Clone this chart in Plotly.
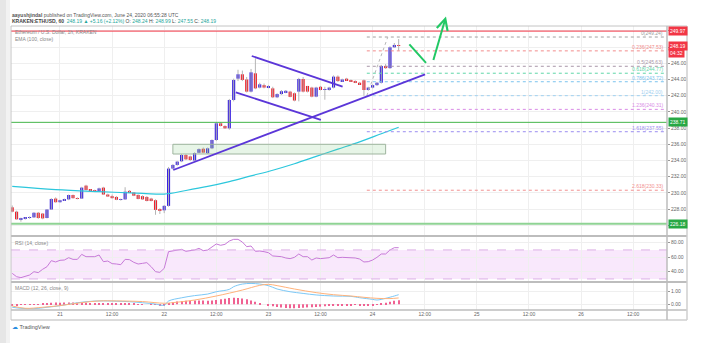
import plotly.graph_objects as go
import pandas as pd

# ---------------- data ----------------
OPEN = [228.22, 227.68, 226.74, 226.85, 226.94, 226.98, 227.55, 227.45, 226.90, 227.95,
        229.30, 228.85, 229.10, 229.20, 229.74, 229.35, 229.30, 230.90, 230.36, 230.30,
        230.20, 230.65, 229.80, 229.60, 229.50, 229.15, 229.20, 230.25, 230.05, 229.75,
        229.60, 229.50, 229.30, 229.10, 228.00, 227.85, 228.40, 233.00, 233.45, 233.90,
        234.68, 234.50, 234.00, 234.95, 235.45, 234.90, 235.50, 236.53, 238.59, 238.26,
        237.97, 241.47, 244.10, 244.64, 244.00, 242.50, 244.76, 243.00, 243.30, 243.00,
        242.90, 241.80, 242.20, 242.40, 242.50, 242.30, 242.50, 244.06, 243.20, 243.00,
        241.88, 243.10, 242.70, 242.70, 243.00, 244.35, 243.80, 244.10, 243.90, 243.80,
        243.60, 243.90, 242.70, 243.00, 243.30, 243.60, 245.67, 245.40, 247.97, 248.24]
HIGH = [228.45, 227.80, 226.95, 227.00, 227.10, 227.60, 227.65, 227.50, 228.00, 229.35,
        229.45, 229.15, 229.30, 229.80, 229.80, 229.45, 230.75, 231.00, 230.45, 230.40,
        230.65, 230.75, 229.90, 229.80, 229.60, 229.30, 230.70, 230.35, 230.10, 229.80,
        229.70, 229.60, 229.40, 229.20, 228.10, 228.50, 233.20, 233.55, 233.95, 234.80,
        234.80, 234.60, 235.00, 235.50, 235.60, 235.60, 236.60, 238.70, 238.75, 238.35,
        241.60, 244.10, 245.20, 245.10, 244.30, 245.30, 246.60, 243.60, 243.50, 243.30,
        243.10, 242.30, 242.70, 242.70, 242.60, 242.40, 244.20, 244.30, 243.20, 243.10,
        243.10, 243.20, 243.10, 243.10, 244.50, 244.50, 244.10, 244.20, 244.00, 243.90,
        243.70, 244.00, 243.10, 243.40, 243.70, 245.80, 245.90, 248.10, 248.50, 248.99]
LOW = [227.60, 226.70, 226.45, 226.70, 226.80, 226.90, 226.80, 226.75, 226.85, 227.90,
       228.80, 228.80, 229.00, 229.10, 229.30, 229.20, 229.25, 230.30, 230.20, 230.10,
       230.10, 229.75, 229.50, 229.30, 229.10, 229.05, 229.15, 230.00, 229.60, 229.20,
       229.15, 228.95, 228.95, 227.30, 227.40, 227.50, 228.30, 232.90, 233.35, 233.80,
       234.05, 233.95, 233.90, 234.90, 234.90, 234.80, 235.40, 236.40, 238.20, 237.90,
       237.80, 241.30, 243.80, 243.80, 242.40, 242.40, 242.80, 242.90, 242.90, 242.90,
       241.70, 241.70, 242.10, 242.30, 241.80, 241.30, 241.30, 242.40, 242.40, 241.80,
       241.80, 242.65, 241.50, 242.60, 242.90, 243.70, 243.70, 243.85, 243.70, 243.55,
       243.35, 242.00, 242.60, 242.90, 243.20, 243.50, 245.30, 245.30, 247.90, 247.55]
CLOSE = [227.68, 226.74, 226.85, 226.94, 226.98, 227.55, 226.90, 226.85, 227.95, 229.25,
         228.85, 229.10, 229.20, 229.74, 229.35, 229.30, 230.65, 230.36, 230.30, 230.20,
         230.56, 229.80, 229.55, 229.35, 229.15, 229.20, 230.15, 230.05, 229.65, 229.25,
         229.20, 229.00, 229.00, 227.90, 227.80, 228.40, 233.00, 233.45, 233.86, 234.68,
         234.14, 234.06, 234.90, 235.40, 234.97, 235.50, 236.53, 238.59, 238.26, 237.97,
         241.47, 243.94, 244.64, 243.94, 242.50, 244.88, 242.90, 243.40, 243.00, 243.10,
         241.80, 242.20, 242.55, 242.60, 241.85, 241.40, 244.06, 242.50, 242.50, 241.88,
         243.00, 242.70, 242.80, 243.00, 244.35, 243.80, 244.00, 243.90, 243.80, 243.60,
         243.40, 242.70, 243.00, 243.30, 243.60, 245.67, 245.40, 247.97, 248.26, 248.19]

EMA_IDX = [0, 10, 20, 30, 35, 40, 45, 50, 55, 60, 65, 70, 75, 80, 85, 89]
EMA_VAL = [230.80, 230.40, 230.15, 229.95, 229.85, 230.30, 230.80, 231.40, 232.10,
           232.80, 233.60, 234.50, 235.40, 236.30, 237.30, 238.10]

RSI = [37.7, 33.1, 31.8, 33.2, 35.4, 40.0, 38.7, 43.3, 46.9, 55.2,
       53.4, 55.7, 56.1, 59.3, 57.0, 57.0, 63.9, 60.7, 60.7, 60.7,
       63.0, 53.8, 54.7, 51.1, 50.6, 49.7, 57.0, 56.6, 52.9, 50.6,
       51.5, 52.5, 46.9, 40.0, 39.1, 44.6, 67.6, 69.0, 69.9, 70.8,
       68.1, 68.5, 69.9, 72.2, 69.0, 69.9, 74.5, 78.2, 76.4, 77.7,
       82.3, 84.6, 84.6, 80.9, 74.5, 75.4, 68.1, 68.5, 67.6, 66.2,
       61.7, 61.7, 60.7, 58.9, 58.0, 59.8, 64.4, 60.7, 60.7, 56.1,
       58.9, 58.0, 58.4, 59.3, 63.0, 59.3, 59.8, 59.8, 59.8, 58.9,
       57.5, 53.4, 53.8, 56.1, 59.8, 64.4, 64.4, 69.9, 73.1, 73.1]

MACD_IDX = [0, 2, 5, 8, 11, 15, 19, 23, 27, 30, 33, 35, 36, 39, 42, 45, 47, 50, 51, 53,
            55, 57, 59, 61, 64, 67, 70, 74, 78, 80, 83, 84, 86, 88, 89]
MACD_VAL = [-0.23, -0.31, -0.34, -0.23, -0.11, 0.12, 0.25, 0.25, 0.20, 0.12, 0.02, -0.08,
            0.25, 0.50, 0.67, 0.79, 0.97, 1.15, 1.36, 1.56, 1.61, 1.56, 1.44, 1.18, 0.97,
            0.84, 0.72, 0.64, 0.61, 0.51, 0.38, 0.33, 0.46, 0.64, 0.74]
SIGNAL_IDX = [0, 3, 7, 11, 16, 20, 24, 30, 35, 37, 42, 47, 53, 57, 59, 61, 65, 70, 74, 78,
              81, 84, 87, 89]
SIGNAL_VAL = [-0.13, -0.31, -0.23, -0.10, 0.13, 0.26, 0.26, 0.21, 0.08, 0.13, 0.33, 0.64,
              1.10, 1.46, 1.54, 1.44, 1.18, 0.90, 0.74, 0.64, 0.54, 0.46, 0.44, 0.49]
HIST = [-0.08, -0.06, -0.05, -0.04, -0.03, -0.02, 0.02, 0.05, 0.08, 0.12,
        0.13, 0.12, 0.13, 0.14, 0.13, 0.12, 0.14, 0.12, 0.10, 0.10,
        0.09, 0.08, 0.06, 0.05, 0.05, 0.04, 0.05, 0.04, 0.03, 0.02,
        0.01, 0.00, -0.02, -0.05, -0.07, -0.08, 0.05, 0.15, 0.22, 0.26,
        0.27, 0.28, 0.30, 0.30, 0.30, 0.28, 0.30, 0.33, 0.38, 0.42,
        0.48, 0.50, 0.48, 0.44, 0.38, 0.30, 0.20, 0.10, 0.00, -0.08,
        -0.15, -0.20, -0.25, -0.28, -0.30, -0.30, -0.28, -0.26, -0.24, -0.22,
        -0.20, -0.18, -0.16, -0.14, -0.12, -0.10, -0.10, -0.08, -0.06, -0.05,
        -0.08, -0.10, -0.12, -0.10, -0.05, 0.05, 0.12, 0.20, 0.28, 0.32]

PRICE_TICKS = [226, 228, 230, 232, 234, 236, 238, 240, 242, 244, 246, 248, 250]
PRICE_HIDDEN = [226, 248, 250]
TIME_TICKS = ['2020-06-21 00:00', '2020-06-21 12:00', '2020-06-22 00:00', '2020-06-22 12:00',
              '2020-06-23 00:00', '2020-06-23 12:00', '2020-06-24 00:00', '2020-06-24 12:00',
              '2020-06-25 00:00', '2020-06-25 12:00', '2020-06-26 00:00', '2020-06-26 12:00']
TIME_LABELS = ['21', '12:00', '22', '12:00', '23', '12:00', '24', '12:00', '25', '12:00', '26', '12:00']

FIB_LEVELS = ['0', '0.236', '0.5', '0.618', '0.786', '1', '1.236', '1.618', '2.618']
FIB_PRICES = [249.24, 247.53, 245.63, 244.77, 243.72, 242.00, 240.31, 237.55, 230.33]
FIB_COLORS = ['#a0a0a0', '#f28b8b', '#a896a8', '#5fd6a8', '#7cc3ee', '#9fd0f0',
              '#d98be6', '#9a8cf0', '#f29090']

H_LEVELS = [249.97, 238.71, 226.18]
LAST_PRICE = 248.19

# ---------------- helpers ----------------
W, H = 702, 343
def px(x):
    return x / W
def py(y):
    return 1 - y / H

times = pd.date_range('2020-06-20 13:00', periods=len(CLOSE), freq='h')
UP, DN = '#3b24e0', '#f0222e'

fig = go.Figure()

# wicks
wx, wy = [], []
for t, lo, hi in zip(times, LOW, HIGH):
    wx += [t, t, None]
    wy += [lo, hi, None]
fig.add_trace(go.Scatter(x=wx, y=wy, mode='lines', line=dict(color='#b4b4b4', width=1),
                         hoverinfo='skip', xaxis='x', yaxis='y'))
# bodies
base = [min(o, c) for o, c in zip(OPEN, CLOSE)]
hgt = [max(abs(c - o), 0.06) for o, c in zip(OPEN, CLOSE)]
cols = [UP if c >= o else DN for o, c in zip(OPEN, CLOSE)]
fig.add_trace(go.Bar(x=times, y=hgt, base=base, width=0.72 * 3600000,
                     marker=dict(color=cols, line=dict(width=0)), xaxis='x', yaxis='y'))
# EMA
fig.add_trace(go.Scatter(x=[times[i] for i in EMA_IDX], y=EMA_VAL, mode='lines',
                         line=dict(color='#2cc7dc', width=1.2, shape='spline'),
                         xaxis='x', yaxis='y'))
# RSI
fig.add_trace(go.Scatter(x=times, y=RSI, mode='lines', line=dict(color='#c77ad8', width=1),
                         xaxis='x2', yaxis='y2'))
# MACD
fig.add_trace(go.Bar(x=times, y=HIST, width=0.25 * 3600000,
                     marker=dict(color='#f06292', line=dict(width=0)), xaxis='x3', yaxis='y3'))
fig.add_trace(go.Scatter(x=[times[i] for i in MACD_IDX], y=MACD_VAL, mode='lines',
                         line=dict(color='#7cc8f6', width=1, shape='spline'), xaxis='x3', yaxis='y3'))
fig.add_trace(go.Scatter(x=[times[i] for i in SIGNAL_IDX], y=SIGNAL_VAL, mode='lines',
                         line=dict(color='#ffb27a', width=1, shape='spline'), xaxis='x3', yaxis='y3'))

XR = ['2020-06-20 12:43', '2020-06-26 19:48']
grid = '#efefef'
axfont = dict(family='Liberation Sans', size=5, color='#666666')
xcommon = dict(range=XR, type='date', tickvals=TIME_TICKS, ticktext=TIME_LABELS,
               showgrid=True, gridcolor=grid, gridwidth=1, zeroline=False,
               domain=[px(11), px(667)], fixedrange=True)

shapes = []
annotations = []

# RSI band
shapes.append(dict(type='rect', xref='x2', yref='y2', x0=XR[0], x1=XR[1], y0=30, y1=70,
                   fillcolor='rgba(226,150,240,0.22)', line=dict(width=0), layer='below'))
for lv in (30, 70):
    shapes.append(dict(type='line', xref='x2', yref='y2', x0=XR[0], x1=XR[1], y0=lv, y1=lv,
                       line=dict(color='#dcb0e6', width=1, dash='dash')))

# horizontal levels
shapes.append(dict(type='line', xref='x', yref='y', x0=XR[0], x1=XR[1], y0=H_LEVELS[0], y1=H_LEVELS[0],
                   line=dict(color='#f23645', width=1)))
shapes.append(dict(type='line', xref='x', yref='y', x0=XR[0], x1=XR[1], y0=H_LEVELS[1], y1=H_LEVELS[1],
                   line=dict(color='#43b549', width=1)))
shapes.append(dict(type='line', xref='x', yref='y', x0=XR[0], x1=XR[1], y0=H_LEVELS[2], y1=H_LEVELS[2],
                   line=dict(color='#8fd394', width=2)))

# fib retracement
FIB_T0 = '2020-06-23 22:40'
for lvl, p, c in zip(FIB_LEVELS, FIB_PRICES, FIB_COLORS):
    shapes.append(dict(type='line', xref='x', yref='y', x0=FIB_T0, x1=XR[1], y0=p, y1=p,
                       line=dict(color=c, width=1, dash='dot')))
    annotations.append(dict(x=px(665), xref='paper', y=p, yref='y', xanchor='right', yanchor='bottom',
                            text=f'{lvl}({p:.2f})', showarrow=False,
                            font=dict(family='Liberation Sans', size=5, color=c), yshift=-1))
shapes.append(dict(type='line', xref='x', yref='y', x0=FIB_T0, x1='2020-06-24 03:30',
                   y0=FIB_PRICES[5], y1=FIB_PRICES[0], line=dict(color='#b8b8b8', width=1, dash='dot')))

# support zone rectangle
shapes.append(dict(type='rect', xref='x', yref='y', x0='2020-06-22 02:00', x1='2020-06-24 03:00',
                   y0=234.8, y1=236.0, fillcolor='rgba(120,200,120,0.18)',
                   line=dict(color='#9fb59f', width=1)))

# trend lines
TL = '#5b36d8'
shapes.append(dict(type='line', xref='x', yref='y', x0='2020-06-22 02:05', x1='2020-06-24 12:05',
                   y0=232.83, y1=244.64, line=dict(color=TL, width=1.8)))
shapes.append(dict(type='line', xref='x', yref='y', x0='2020-06-22 20:10', x1='2020-06-23 17:05',
                   y0=246.9, y1=243.11, line=dict(color=TL, width=1.8)))
shapes.append(dict(type='line', xref='x', yref='y', x0='2020-06-22 16:30', x1='2020-06-23 12:05',
                   y0=242.42, y1=239.0, line=dict(color=TL, width=1.8)))

# green arrow drawing (unclipped annotations)
GA = '#22c865'
ARROW = [('2020-06-24 12:18', 246.04, '2020-06-24 08:09', 248.51, 0),
         ('2020-06-24 16:54', 251.78, '2020-06-24 13:54', 246.22, 5)]
for x1, y1, x0, y0, head in ARROW:
    annotations.append(dict(x=x1, y=y1, xref='x', yref='y', ax=x0, ay=y0, axref='x', ayref='y',
                            text='', showarrow=True, arrowhead=head, arrowsize=1.1,
                            arrowwidth=2, arrowcolor=GA, standoff=0, startstandoff=0))

# frame lines (paper)
BC = '#c4c4c4'
def hline(y, w=1, c=BC, x0=11, x1=687):
    shapes.append(dict(type='line', xref='paper', yref='paper', x0=px(x0), x1=px(x1), y0=py(y), y1=py(y),
                       line=dict(color=c, width=w)))
def vline(x, y0, y1, w=1, c=BC):
    shapes.append(dict(type='line', xref='paper', yref='paper', x0=px(x), x1=px(x), y0=py(y0), y1=py(y1),
                       line=dict(color=c, width=w)))
hline(26)
hline(236, 2, '#bdbdbd')
hline(282, 2, '#bdbdbd')
hline(310, 1.5, '#bdbdbd')
hline(320, 1.5, '#cfcfcf')
vline(11, 26, 320)
vline(667, 26, 320, 1.5, '#bdbdbd')
vline(687, 26, 320, 1.5, '#cfcfcf')
# left page shadow
shapes.append(dict(type='rect', xref='paper', yref='paper', x0=0, x1=px(6), y0=0, y1=1,
                   fillcolor='#e6e6e6', line=dict(width=0), layer='below'))
shapes.append(dict(type='rect', xref='paper', yref='paper', x0=px(6), x1=px(10), y0=0, y1=1,
                   fillcolor='#f2f2f2', line=dict(width=0), layer='below'))

# axis price labels
def plabel(p, txt, bg, dy=0):
    annotations.append(dict(x=px(668), xref='paper', y=p, yref='y', xanchor='left', yanchor='middle',
                            text=txt, showarrow=False, bgcolor=bg, borderpad=1, yshift=dy,
                            font=dict(family='Liberation Sans', size=5, color='white')))
plabel(H_LEVELS[0], f'{H_LEVELS[0]:.2f}', '#f23645')
plabel(LAST_PRICE, f'{LAST_PRICE:.2f}', '#f23645')
plabel(LAST_PRICE, '04:32', '#f23645', dy=-7)
plabel(H_LEVELS[1], f'{H_LEVELS[1]:.2f}', '#27a844')
plabel(H_LEVELS[2], f'{H_LEVELS[2]:.2f}', '#27a844')

# texts
def txt(x, y, s, size=5, color='#777777', anchor='left'):
    annotations.append(dict(x=px(x), y=py(y), xref='paper', yref='paper', xanchor=anchor, yanchor='middle',
                            text=s, showarrow=False, font=dict(family='Liberation Sans', size=size, color=color)))
txt(10, 15, '<b>aayushjindal</b> published on TradingView.com, June 24, 2020 06:55:28 UTC', 5, '#555555')
T = '#26a69a'
txt(10, 21, f'<b>KRAKEN:ETHUSD, 60</b>  <span style="color:{T}">248.19 ▲ +5.16 (+2.12%)</span> '
            f'O: <span style="color:{T}">248.24</span> H: <span style="color:{T}">248.99</span> '
            f'L: <span style="color:{T}">247.55</span> C: <span style="color:{T}">248.19</span>', 5, '#444444')
txt(13, 32.5, 'Ethereum / U.S. Dollar, 1h, KRAKEN', 5, '#888888')
txt(13, 39, 'EMA (100, close)', 5, '#888888')
txt(13, 243, 'RSI (14, close)', 5, '#888888')
txt(13, 288, 'MACD (12, 26, close, 9)', 5, '#888888')
txt(10, 327, '<span style="color:#2a8de0">☁</span> TradingView', 5.5, '#555555')

fig.update_layout(
    width=W, height=H, margin=dict(l=0, r=0, t=0, b=0),
    paper_bgcolor='white', plot_bgcolor='white', showlegend=False, barmode='overlay',
    xaxis=dict(**xcommon, anchor='y', showticklabels=False, rangeslider=dict(visible=False)),
    xaxis2=dict(**xcommon, anchor='y2', showticklabels=False, matches='x'),
    xaxis3=dict(**xcommon, anchor='y3', showticklabels=True, matches='x', tickfont=axfont, ticks=''),
    yaxis=dict(domain=[py(236), py(26)], range=[224.68, 250.60], side='right', anchor='x',
               tickvals=PRICE_TICKS,
               ticktext=['' if v in PRICE_HIDDEN else f'{v:.2f}' for v in PRICE_TICKS],
               showgrid=True, gridcolor=grid, zeroline=False, tickfont=axfont,
               ticks='outside', ticklen=2, tickcolor='#999999', fixedrange=True),
    yaxis2=dict(domain=[py(282), py(236)], range=[25.8, 89.2], side='right', anchor='x2',
                tickvals=[40, 60, 80], ticktext=['40.00', '60.00', '80.00'],
                showgrid=True, gridcolor=grid, zeroline=False, tickfont=axfont,
                ticks='outside', ticklen=2, tickcolor='#999999', fixedrange=True),
    yaxis3=dict(domain=[py(310), py(282)], range=[-0.44, 1.72], side='right', anchor='x3',
                tickvals=[0, 1], ticktext=['0.00', '1.00'],
                showgrid=True, gridcolor=grid, zeroline=False, tickfont=axfont,
                ticks='outside', ticklen=2, tickcolor='#999999', fixedrange=True),
    shapes=shapes, annotations=annotations,
)

fig.write_html('out.html')
